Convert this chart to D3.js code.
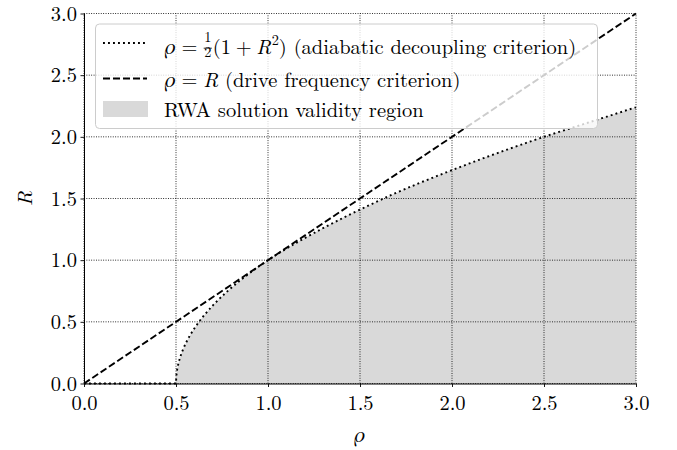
<!DOCTYPE html>
<html>
<head>
<meta charset="utf-8">
<script src="https://cdn.jsdelivr.net/npm/d3@7"></script>
<style>
  body { margin: 0; background: #fff; }
</style>
</head>
<body>
<div id="chart"></div>
<script>
// values
const xTicks = [0, 0.5, 1.0, 1.5, 2.0, 2.5, 3.0];
const yTicks = [0, 0.5, 1.0, 1.5, 2.0, 2.5, 3.0];

// adiabatic decoupling curve (dotted)
const curveRho = [0, 0.25, 0.5, 0.505, 0.52, 0.545, 0.58, 0.625, 0.68, 0.745, 0.82, 0.905, 1.0, 1.25, 1.5, 1.75, 2.0, 2.25, 2.5, 2.75, 3.0];
const curveR   = [0, 0,    0,   0.1,   0.2,  0.3,   0.4,  0.5,   0.6,  0.7,   0.8,  0.9,   1.0, 1.22, 1.41, 1.58, 1.73, 1.87, 2.0, 2.12, 2.24];

// drive frequency line (dashed)
const lineRho = [0, 3];
const lineR   = [0, 3];

const legendLabels = ["(adiabatic decoupling criterion)", "(drive frequency criterion)", "RWA solution validity region"];

const W = 677, H = 450;
const margin = { top: 13.5, right: 41, bottom: 66.5, left: 84 };
const FONT = "'Latin Modern Roman', 'Liberation Serif', serif";
const GREEK = "'FreeSerif', 'DejaVu Serif', serif";
const FS = 20.5;

const svg = d3.select("#chart").append("svg")
    .attr("width", W)
    .attr("height", H);

const x = d3.scaleLinear().domain([0, 3]).range([margin.left, W - margin.right]);
const y = d3.scaleLinear().domain([0, 3]).range([H - margin.bottom, margin.top]);

const pts = curveRho.map((r, i) => [r, curveR[i]]);
const flat = pts.filter(p => p[1] === 0 && p[0] <= 0.5);
const bend = pts.filter(p => p[0] >= 0.5);

// shaded validity region below the curve
const bendPath = d3.line().x(d => x(d[0])).y(d => y(d[1])).curve(d3.curveMonotoneY)(bend);
svg.append("path")
    .attr("d", bendPath + `L${x(3)},${y(0)}L${x(0.5)},${y(0)}Z`)
    .attr("fill", "#d9d9d9");

// grid
const grid = svg.append("g");
grid.selectAll(".gx").data(xTicks).enter().append("line")
    .attr("x1", d => x(d)).attr("x2", d => x(d))
    .attr("y1", y(0)).attr("y2", y(3));
grid.selectAll(".gy").data(yTicks).enter().append("line")
    .attr("x1", x(0)).attr("x2", x(3))
    .attr("y1", d => y(d)).attr("y2", d => y(d));
grid.selectAll("line")
    .attr("stroke", "#000")
    .attr("stroke-width", 0.9)
    .attr("stroke-dasharray", "0.9,1.5");

// dashed line rho = R
svg.append("path")
    .datum(lineRho.map((r, i) => [r, lineR[i]]))
    .attr("d", d3.line().x(d => x(d[0])).y(d => y(d[1])))
    .attr("fill", "none")
    .attr("stroke", "#000")
    .attr("stroke-width", 1.9)
    .attr("stroke-dasharray", "7,3");

// dotted curve
svg.append("path")
    .attr("d", d3.line().x(d => x(d[0])).y(d => y(d[1]))(flat) + bendPath.replace(/^M/, "L"))
    .attr("fill", "none")
    .attr("stroke", "#000")
    .attr("stroke-width", 1.9)
    .attr("stroke-dasharray", "1.9,3.1");

// axes
const xAxis = svg.append("g")
    .attr("transform", `translate(0,${y(0)})`)
    .call(d3.axisBottom(x).tickValues(xTicks).tickFormat(d3.format(".1f")).tickSize(3.5).tickSizeOuter(0));
const yAxis = svg.append("g")
    .attr("transform", `translate(${x(0)},0)`)
    .call(d3.axisLeft(y).tickValues(yTicks).tickFormat(d3.format(".1f")).tickSize(3.5).tickSizeOuter(0).tickPadding(3.5));
[xAxis, yAxis].forEach(a => {
    a.select(".domain").attr("stroke", "#000").attr("stroke-width", 1);
    a.selectAll(".tick line").attr("stroke", "#000").attr("stroke-width", 0.9);
    a.selectAll("text")
        .attr("fill", "#000")
        .style("font-family", FONT)
        .style("font-size", FS + "px");
});
xAxis.selectAll("text").attr("y", 26.5).attr("dy", 0);

// italic rho
function rho(g, cx, base, anchor) {
    return g.append("text")
        .attr("x", cx).attr("y", base)
        .attr("text-anchor", anchor || "start")
        .style("font-family", GREEK).style("font-size", (FS + 1) + "px")
        .style("font-style", "italic")
        .text("ρ");
}
rho(svg, (x(0) + x(3)) / 2, 442, "middle");
svg.append("text")
    .attr("transform", `translate(32,${(y(0) + y(3)) / 2}) rotate(-90)`)
    .attr("text-anchor", "middle")
    .style("font-family", FONT).style("font-size", FS + "px").style("font-style", "italic")
    .text("R");

// legend
const lg = svg.append("g");
lg.append("rect")
    .attr("x", 95.5).attr("y", 24).attr("width", 502).attr("height", 104.5)
    .attr("rx", 4)
    .attr("fill", "#fff").attr("fill-opacity", 0.8)
    .attr("stroke", "#cccccc").attr("stroke-width", 1);

lg.append("line").attr("x1", 103).attr("x2", 147).attr("y1", 43).attr("y2", 43)
    .attr("stroke", "#000").attr("stroke-width", 1.9).attr("stroke-dasharray", "1.9,3.1");
lg.append("line").attr("x1", 103).attr("x2", 147).attr("y1", 78.5).attr("y2", 78.5)
    .attr("stroke", "#000").attr("stroke-width", 1.9).attr("stroke-dasharray", "7,3");
lg.append("rect").attr("x", 103).attr("y", 101).attr("width", 45).attr("height", 16)
    .attr("fill", "#d9d9d9");

// lay out text pieces one after another
function piece(cx, yy, s, opts) {
    return lg.append("text")
        .attr("x", cx).attr("y", yy)
        .style("font-family", FONT)
        .style("font-size", (opts.fs || FS) + "px")
        .style("font-style", opts.it ? "italic" : "normal")
        .style("white-space", "pre")
        .text(s);
}
function row(x0, base, pieces) {
    let cx = x0;
    pieces.forEach(p => {
        if (p.greek) {
            const t = rho(lg, cx, base);
            cx += t.node().getComputedTextLength() + (p.gap || 0);
            return;
        }
        if (p.frac) {
            const fs = 14.3;
            const n = piece(cx + 1, base - 11.5, p.frac[0], { fs });
            const d = piece(cx + 1, base + 3.5, p.frac[1], { fs });
            const w = Math.max(n.node().getComputedTextLength(), d.node().getComputedTextLength()) + 2;
            lg.append("line").attr("x1", cx + 0.5).attr("x2", cx + w - 0.5)
                .attr("y1", base - 5.3).attr("y2", base - 5.3)
                .attr("stroke", "#000").attr("stroke-width", 0.8);
            cx += w + 0.5;
            return;
        }
        const t = piece(cx, base + (p.dy || 0), p.s, p);
        cx += t.node().getComputedTextLength() + (p.gap || 0);
    });
}
row(165, 53.5, [
    { greek: true, gap: 5.7 },
    { s: "=", gap: 5.7 },
    { frac: ["1", "2"] },
    { s: "(1", gap: 4.6 },
    { s: "+", gap: 4.6 },
    { s: "R", it: true, gap: 0.5 },
    { s: "2", fs: 14.3, dy: -8.5 },
    { s: ") " + legendLabels[0] }
]);
row(165, 86.5, [
    { greek: true, gap: 5.7 },
    { s: "=", gap: 5.7 },
    { s: "R", it: true },
    { s: " " + legendLabels[1] }
]);
row(164, 116.5, [{ s: legendLabels[2] }]);
</script>
</body>
</html>
